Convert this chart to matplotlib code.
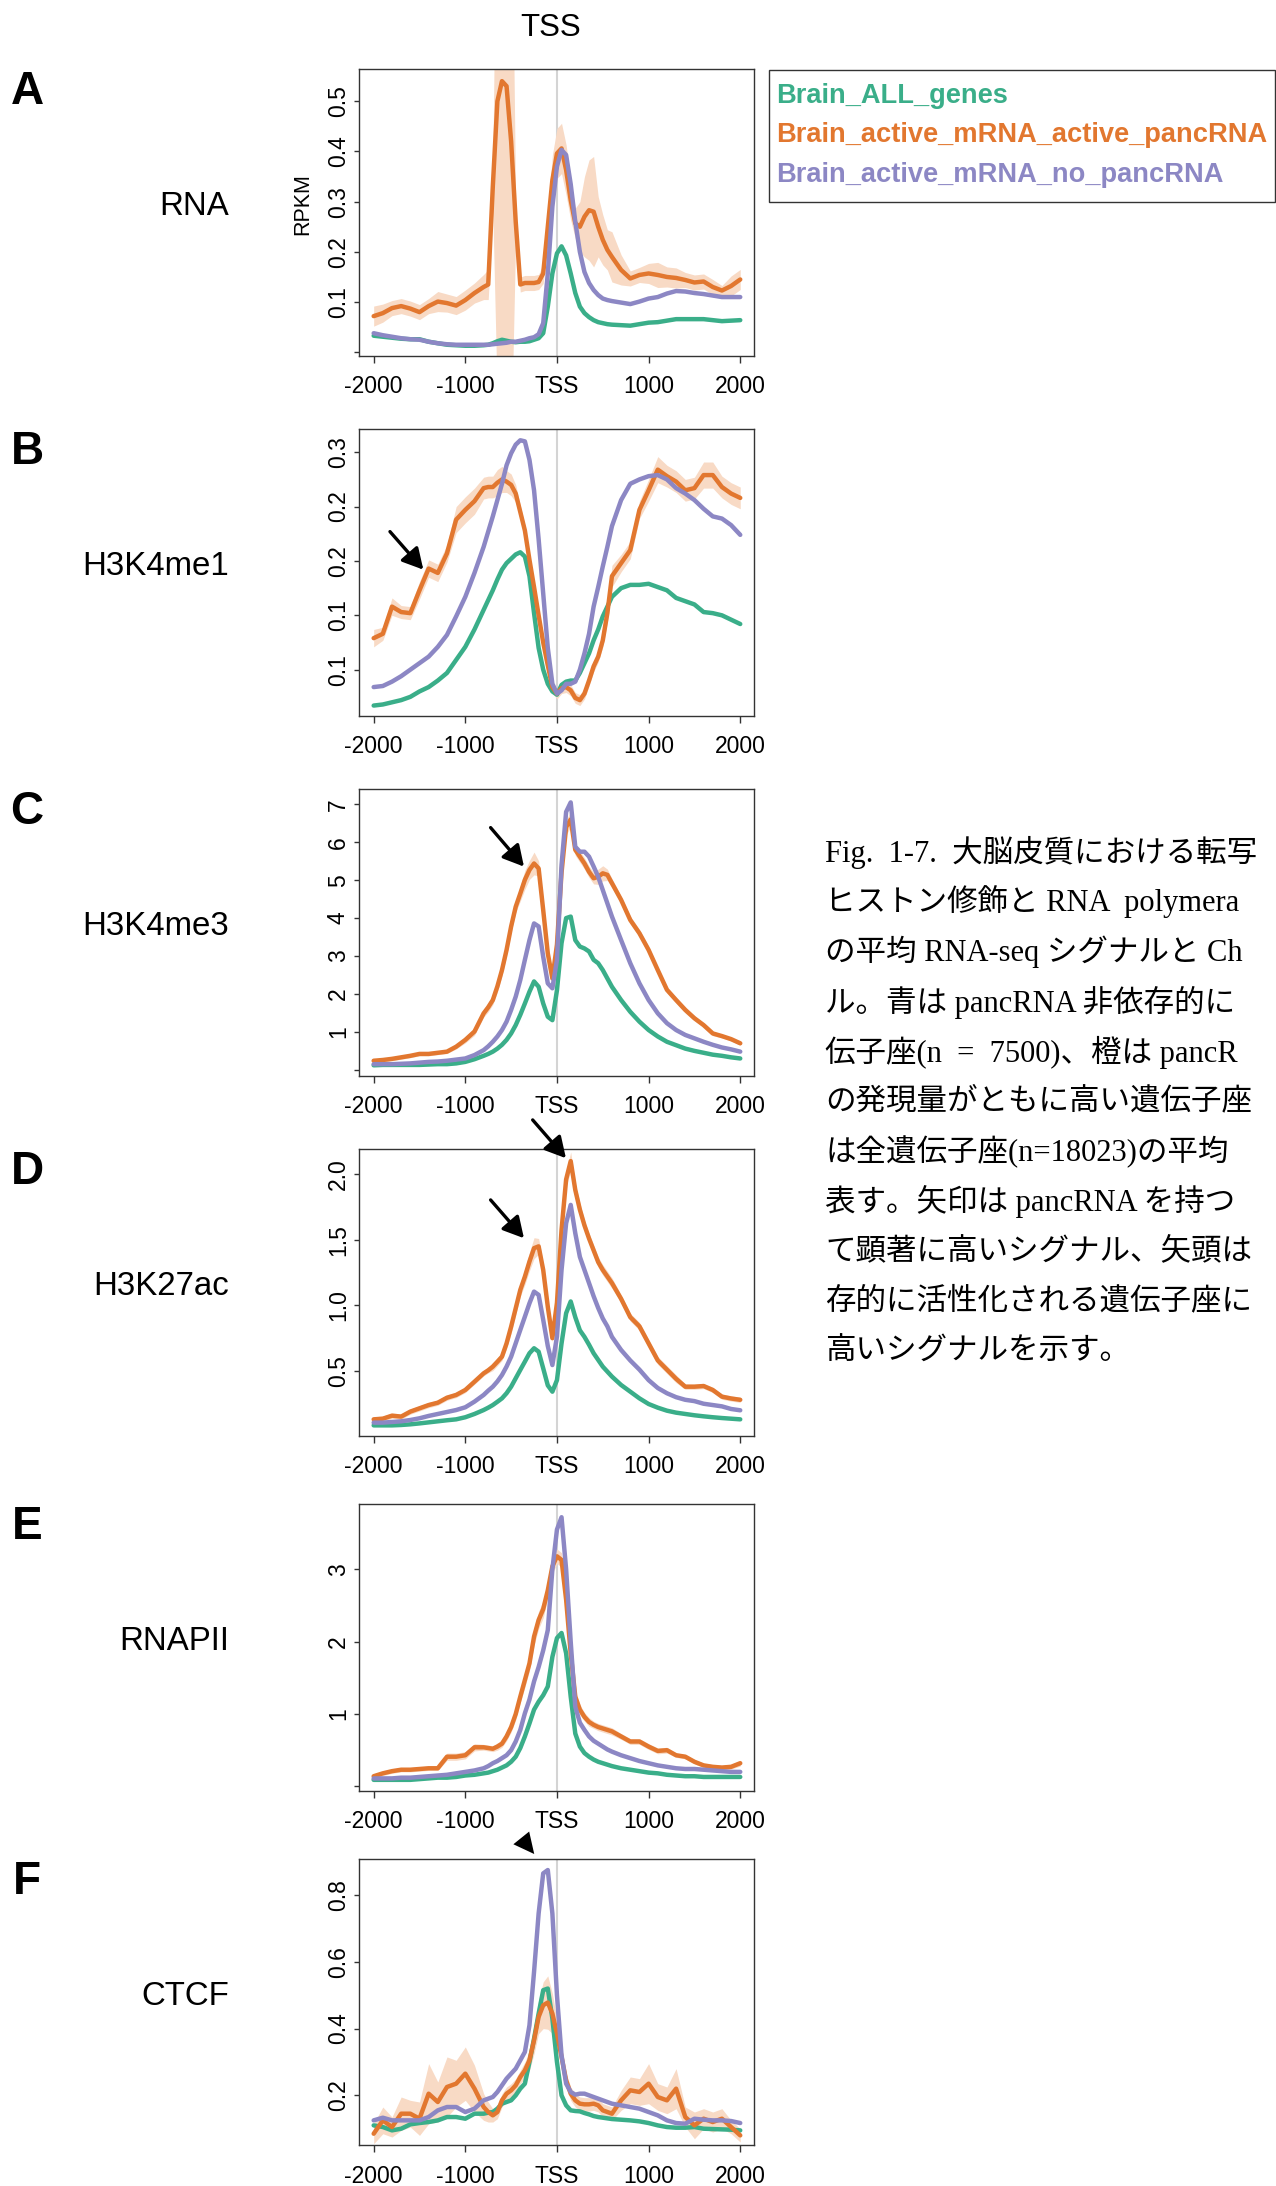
import matplotlib
matplotlib.use("Agg")
import matplotlib.pyplot as plt
from matplotlib.patches import Rectangle

plt.rcParams['font.family'] = ['Liberation Sans', 'DejaVu Sans']

# distance from TSS (bp), shared by all panels
x_pos = [-2000, -1900, -1800, -1700, -1600, -1500, -1400, -1300, -1200, -1100, -1000, -900, -800,
         -750, -700, -650, -600, -550, -500, -450, -400, -350, -300, -250, -200, -150, -100, -50,
         0, 50, 100, 150, 200, 250, 300, 350, 400, 450, 500, 550, 600,
         700, 800, 900, 1000, 1100, 1200, 1300, 1400, 1500, 1600, 1700, 1800, 1900, 2000]

# A: RNA
rna_all = [.033, .031, .029, .027, .026, .026, .021, .018, .015, .014, .013, .013, .014,
           .015, .018, .022, .025, .023, .021, .020, .021, .021, .022, .025, .028, .038, .091, .157,
           .197, .211, .193, .157, .118, .091, .078, .070, .064, .060, .058, .056, .055,
           .054, .053, .056, .059, .060, .063, .066, .066, .066, .066, .064, .062, .063, .064]
rna_active = [.072, .078, .088, .092, .087, .080, .092, .101, .098, .093, .104, .118, .130,
              .135, .33, .50, .54, .53, .42, .26, .135, .138, .138, .138, .140, .157, .25, .343,
              .396, .406, .363, .303, .257, .25, .270, .283, .28, .25, .224, .204, .19,
              .164, .147, .154, .157, .154, .150, .148, .144, .139, .141, .130, .123, .132, .145]
rna_nopanc = [.038, .034, .031, .028, .026, .025, .021, .018, .016, .015, .015, .015, .015,
              .015, .016, .017, .018, .019, .021, .021, .023, .025, .028, .030, .036, .058, .157, .29,
              .37, .403, .393, .335, .26, .20, .16, .138, .124, .114, .107, .104, .102,
              .099, .096, .101, .107, .110, .117, .122, .121, .118, .116, .113, .110, .110, .110]
rna_band = [.02, .018, .015, .015, .015, .015, .015, .02, .018, .018, .02, .02, .025,
            .03, .05, .6, .6, .6, .6, .03, .015, .015, .015, .015, .015, .02, .03, .05,
            .05, .05, .05, .04, .03, .05, .08, .10, .11, .06, .05, .04, .05,
            .03, .015, .015, .02, .025, .02, .02, .015, .015, .015, .015, .01, .02, .02]

# B: H3K4me1
k4me1_all = [.067, .068, .070, .072, .075, .080, .084, .090, .097, .109, .121, .137, .155,
             .164, .173, .183, .192, .198, .202, .206, .208, .204, .186, .152, .120, .100, .087, .080,
             .077, .086, .089, .090, .090, .097, .106, .115, .127, .137, .149, .158, .167,
             .175, .178, .178, .179, .176, .173, .166, .163, .160, .153, .152, .150, .146, .142]
k4me1_active = [.129, .133, .158, .153, .152, .173, .193, .189, .207, .238, .247, .255, .267,
                .268, .268, .272, .275, .273, .270, .262, .245, .228, .201, .176, .150, .125, .104, .084,
                .078, .083, .084, .081, .074, .072, .078, .090, .103, .112, .127, .152, .186,
                .198, .210, .247, .265, .284, .278, .273, .265, .267, .279, .279, .268, .262, .258]
k4me1_nopanc = [.084, .085, .089, .094, .100, .106, .112, .121, .132, .149, .167, .189, .213,
                .227, .241, .256, .271, .288, .299, .307, .311, .310, .293, .265, .220, .170, .120, .087,
                .078, .081, .087, .087, .089, .100, .115, .133, .158, .176, .195, .213, .232,
                .256, .271, .275, .278, .279, .275, .267, .262, .256, .248, .241, .239, .233, .224]
k4me1_band = [.008, .006, .008, .006, .006, .008, .008, .008, .008, .012, .012, .012, .010,
              .010, .010, .012, .012, .010, .010, .008, .006, .005, .005, .005, .005, .005, .005, .005,
              .005, .005, .005, .005, .005, .005, .005, .005, .005, .005, .006, .008, .010,
              .008, .008, .008, .010, .012, .010, .010, .010, .010, .012, .012, .010, .010, .010]

# C: H3K4me3
k4me3_all = [.12, .13, .13, .13, .13, .13, .14, .15, .15, .17, .21, .28, .37,
             .42, .48, .56, .66, .79, .96, 1.18, 1.45, 1.75, 2.06, 2.33, 2.19, 1.75, 1.40, 1.31,
             2.10, 3.34, 4.0, 4.04, 3.42, 3.25, 3.20, 3.12, 2.90, 2.81, 2.63, 2.41, 2.19,
             1.84, 1.53, 1.27, 1.05, .88, .74, .65, .56, .50, .45, .40, .37, .33, .30]
k4me3_active = [.24, .26, .29, .33, .37, .42, .42, .45, .48, .61, .79, 1.01, 1.49,
                1.65, 1.84, 2.2, 2.63, 3.16, 3.78, 4.30, 4.65, 5.01, 5.27, 5.44, 5.31, 4.21, 3.07, 2.41,
                3.3, 5.2, 6.4, 6.6, 5.80, 5.62, 5.44, 5.22, 5.05, 5.09, 5.18, 5.14, 4.92,
                4.48, 3.95, 3.60, 3.16, 2.63, 2.11, 1.84, 1.58, 1.36, 1.18, .96, .89, .81, .70]
k4me3_nopanc = [.15, .15, .15, .16, .17, .19, .21, .22, .24, .27, .30, .39, .52,
                .62, .74, .88, 1.05, 1.27, 1.58, 1.93, 2.37, 2.90, 3.42, 3.86, 3.78, 2.98, 2.28, 2.15,
                2.9, 5.4, 6.8, 7.05, 5.88, 5.75, 5.75, 5.62, 5.36, 5.09, 4.74, 4.39, 4.04,
                3.42, 2.81, 2.28, 1.84, 1.49, 1.23, 1.05, .92, .83, .74, .66, .59, .54, .48]
k4me3_band = [.05, .05, .05, .05, .05, .05, .05, .05, .05, .06, .08, .10, .10,
              .12, .12, .15, .15, .15, .15, .15, .20, .25, .25, .30, .20, .15, .10, .10,
              .10, .15, .20, .20, .15, .15, .15, .15, .15, .20, .20, .15, .12,
              .10, .10, .10, .10, .08, .08, .08, .08, .07, .06, .06, .05, .05, .05]

# D: H3K27ac
k27ac_all = [.085, .085, .085, .088, .093, .100, .108, .116, .124, .131, .147, .172, .202,
             .22, .24, .265, .291, .33, .38, .444, .508, .571, .635, .673, .647, .52, .39, .342,
             .43, .71, .94, 1.03, .91, .81, .76, .70, .635, .584, .533, .495, .457,
             .393, .342, .291, .248, .22, .197, .182, .172, .162, .154, .147, .141, .136, .131]
k27ac_active = [.131, .136, .159, .152, .19, .215, .24, .258, .296, .317, .355, .418, .482,
                .505, .533, .57, .609, .71, .838, .978, 1.118, 1.219, 1.334, 1.436, 1.45, 1.27, .99, .75,
                1.02, 1.575, 1.96, 2.10, 1.88, 1.73, 1.61, 1.51, 1.42, 1.33, 1.27, 1.22, 1.17,
                1.05, .91, .84, .71, .58, .51, .44, .38, .38, .385, .355, .304, .29, .28]
k27ac_nopanc = [.106, .106, .111, .116, .126, .139, .157, .172, .187, .202, .223, .266, .317,
                .35, .38, .42, .469, .533, .609, .711, .813, .914, 1.016, 1.105, 1.08, .89, .69, .545,
                .762, 1.27, 1.626, 1.766, 1.55, 1.37, 1.27, 1.17, 1.07, .98, .90, .84, .76,
                .66, .58, .51, .43, .37, .33, .30, .28, .27, .25, .24, .23, .21, .20]
k27ac_band = [.02, .02, .02, .02, .02, .02, .02, .02, .02, .02, .02, .02, .02,
              .02, .03, .03, .03, .04, .05, .05, .05, .06, .07, .08, .06, .05, .04, .03,
              .04, .05, .06, .07, .05, .05, .04, .04, .04, .04, .04, .04, .04,
              .03, .03, .03, .03, .03, .03, .03, .02, .02, .02, .02, .02, .02, .02]

# E: RNAPII
pol2_all = [.09, .09, .09, .09, .09, .10, .11, .12, .12, .13, .15, .16, .18,
            .19, .21, .23, .26, .29, .34, .41, .53, .69, .87, 1.06, 1.17, 1.26, 1.38, 1.79,
            2.05, 2.12, 1.84, 1.24, .73, .55, .46, .41, .37, .34, .32, .30, .28,
            .25, .23, .21, .19, .18, .16, .15, .14, .14, .13, .13, .13, .13, .13]
pol2_active = [.14, .18, .21, .23, .23, .24, .25, .25, .41, .41, .43, .54, .54,
               .53, .52, .55, .59, .69, .82, 1.0, 1.24, 1.47, 1.70, 2.07, 2.30, 2.45, 2.71, 3.04,
               3.18, 3.13, 2.58, 1.84, 1.24, 1.06, .96, .89, .85, .82, .80, .78, .76,
               .69, .62, .62, .55, .49, .50, .43, .41, .34, .29, .27, .26, .27, .32]
pol2_nopanc = [.11, .11, .11, .12, .12, .13, .14, .15, .16, .18, .20, .22, .25,
               .28, .32, .35, .39, .43, .50, .62, .78, 1.01, 1.20, 1.45, 1.65, 1.88, 2.16, 3.0,
               3.55, 3.72, 3.0, 2.0, 1.1, .88, .78, .69, .63, .59, .55, .51, .48,
               .43, .39, .35, .32, .29, .27, .25, .24, .24, .23, .22, .21, .20, .20]
pol2_band = [.03, .03, .03, .03, .03, .03, .03, .03, .05, .05, .05, .05, .04,
             .04, .04, .05, .05, .06, .07, .08, .08, .10, .10, .12, .12, .12, .10, .10,
             .10, .10, .10, .10, .08, .07, .06, .06, .05, .05, .05, .05, .05,
             .04, .04, .04, .04, .04, .04, .03, .03, .03, .03, .03, .03, .03, .04]

# F: CTCF
ctcf_all = [.11, .105, .095, .10, .113, .117, .12, .125, .135, .135, .13, .145, .145,
            .148, .15, .16, .175, .18, .185, .20, .22, .235, .30, .37, .445, .515, .52, .43,
            .30, .20, .17, .155, .153, .152, .147, .143, .138, .135, .133, .131, .129,
            .127, .125, .122, .117, .11, .105, .103, .103, .105, .10, .099, .098, .097, .095]
ctcf_active = [.085, .125, .105, .145, .145, .13, .205, .18, .225, .235, .265, .22, .165,
               .15, .14, .15, .185, .205, .215, .23, .255, .275, .305, .365, .435, .47, .478, .445,
               .385, .315, .245, .205, .185, .175, .173, .173, .175, .17, .155, .15, .145,
               .185, .215, .21, .235, .195, .185, .22, .135, .11, .13, .12, .13, .105, .08]
ctcf_nopanc = [.125, .133, .125, .125, .125, .125, .135, .155, .165, .165, .15, .16, .185,
               .19, .195, .21, .23, .25, .265, .28, .305, .33, .41, .57, .745, .865, .875, .745,
               .50, .32, .235, .21, .202, .205, .205, .20, .195, .19, .185, .18, .175,
               .17, .165, .16, .15, .14, .125, .117, .115, .13, .127, .125, .125, .123, .117]
ctcf_band = [.03, .04, .03, .05, .04, .05, .09, .06, .09, .07, .08, .07, .04,
             .03, .02, .02, .02, .02, .02, .02, .02, .025, .03, .04, .05, .07, .08, .06,
             .04, .03, .02, .02, .02, .02, .02, .02, .02, .02, .02, .02, .02,
             .03, .04, .04, .06, .04, .04, .06, .03, .04, .03, .03, .03, .02, .02]

x_ticks = [-2000, -1000, 0, 1000, 2000]
x_ticklabels = ['-2000', '-1000', 'TSS', '1000', '2000']

legend_labels = ['Brain_ALL_genes', 'Brain_active_mRNA_active_pancRNA', 'Brain_active_mRNA_no_pancRNA']

# caption, as far as it shows before the right edge of the page
caption_lines = [
    "Fig.  1-7.  大脳皮質における転写",
    "ヒストン修飾と RNA  polymera",
    "の平均 RNA-seq シグナルと Ch",
    "ル。青は pancRNA 非依存的に",
    "伝子座(n  =  7500)、橙は pancR",
    "の発現量がともに高い遺伝子座",
    "は全遺伝子座(n=18023)の平均",
    "表す。矢印は pancRNA を持つ",
    "て顕著に高いシグナル、矢頭は",
    "存的に活性化される遺伝子座に",
    "高いシグナルを示す。",
]

GREEN = '#3aae89'
ORANGE = '#e2772f'
PURPLE = '#8c87c4'
BAND = '#f8dac5'
FRAME = '#333333'
colors = [GREEN, ORANGE, PURPLE]

panels = [
    ("A", "RNA", rna_all, rna_active, rna_nopanc, rna_band, (-0.0074, 0.5636),
     [0, .1, .2, .3, .4, .5], ['', '0.1', '0.2', '0.3', '0.4', '0.5']),
    ("B", "H3K4me1", k4me1_all, k4me1_active, k4me1_nopanc, k4me1_band, (0.0574, 0.3211),
     [.10, .15, .20, .25, .30], ['0.1', '0.1', '0.2', '0.2', '0.3']),
    ("C", "H3K4me3", k4me3_all, k4me3_active, k4me3_nopanc, k4me3_band, (-0.162, 7.395),
     [0, 1, 2, 3, 4, 5, 6, 7], ['', '1', '2', '3', '4', '5', '6', '7']),
    ("D", "H3K27ac", k27ac_all, k27ac_active, k27ac_nopanc, k27ac_band, (0.004, 2.19),
     [.5, 1.0, 1.5, 2.0], ['0.5', '1.0', '1.5', '2.0']),
    ("E", "RNAPII", pol2_all, pol2_active, pol2_nopanc, pol2_band, (-0.06, 3.903),
     [0, 1, 2, 3], ['', '1', '2', '3']),
    ("F", "CTCF", ctcf_all, ctcf_active, ctcf_nopanc, ctcf_band, (0.05, 0.909),
     [.2, .4, .6, .8], ['0.2', '0.4', '0.6', '0.8']),
]

W, H = 1276, 2186
fig = plt.figure(figsize=(W / 100, H / 100), dpi=100)


def fx(px):
    return px / W


def fy(py):
    return 1 - py / H


ax_left, ax_right = 359, 754
ax_h = 286.7
tops = [69.3, 429.3, 789.3, 1149.3, 1504, 1858.7]
axes = []

for (letter, name, s_all, s_act, s_no, band, ylim, yt, ytl), top in zip(panels, tops):
    ax = fig.add_axes([fx(ax_left), fy(top + ax_h), (ax_right - ax_left) / W, ax_h / H])
    ax.axvline(0, color='#d4d4d4', lw=1.5, zorder=1)
    lo = [v - b for v, b in zip(s_act, band)]
    hi = [v + b for v, b in zip(s_act, band)]
    ax.fill_between(x_pos, lo, hi, color=BAND, lw=0, zorder=2)
    for s, c in zip([s_all, s_act, s_no], colors):
        ax.plot(x_pos, s, color=c, lw=3.2, zorder=3, solid_joinstyle='round', solid_capstyle='round')
    ax.set_xlim(-2160, 2150)
    ax.set_ylim(*ylim)
    ax.set_xticks(x_ticks)
    ax.set_xticklabels(x_ticklabels)
    ax.set_yticks(yt)
    ax.set_yticklabels(ytl, rotation=90, va='center')
    ax.tick_params(axis='x', length=5, width=1, pad=9, labelsize=16.5, color=FRAME)
    ax.tick_params(axis='y', length=3.6, width=1, pad=3, labelsize=16.5, color=FRAME)
    for sp in ax.spines.values():
        sp.set_color(FRAME)
        sp.set_linewidth(1)
    fig.text(fx(27), fy(top + 23), letter, fontsize=33, fontweight='bold', ha='center', va='center')
    fig.text(fx(229), fy(top + ax_h / 2 - 6), name, fontsize=23.8, ha='right', va='center')
    axes.append(ax)

# arrows marking strong signals
arrow_kw = dict(arrowstyle='-|>,head_length=12.5,head_width=6.8', mutation_scale=1,
                lw=2.4, color='black', shrinkA=0, shrinkB=0)
axes[1].annotate('', xy=(-1458, 0.192), xytext=(-1822, 0.227), arrowprops=arrow_kw, annotation_clip=False)
axes[2].annotate('', xy=(-360, 5.357), xytext=(-724, 6.385), arrowprops=arrow_kw, annotation_clip=False)
axes[3].annotate('', xy=(-360, 1.512), xytext=(-724, 1.804), arrowprops=arrow_kw, annotation_clip=False)
axes[3].annotate('', xy=(98, 2.122), xytext=(-265, 2.414), arrowprops=arrow_kw, annotation_clip=False)
head_kw = dict(arrowstyle='-|>,head_length=14.9,head_width=7.3', mutation_scale=1,
               lw=0, color='black', shrinkA=0, shrinkB=0)
axes[5].annotate('', xy=(-248, 0.923), xytext=(-453, 0.993), arrowprops=head_kw, annotation_clip=False)

fig.text(fx(551), fy(28), 'TSS', fontsize=22.5, ha='center', va='center')
fig.text(fx(303), fy(204), 'RPKM', fontsize=15.5, rotation=90, ha='center', va='center')

# legend box
fig.add_artist(Rectangle((fx(769), fy(202)), (1275 - 769) / W, (202 - 70) / H,
                         transform=fig.transFigure, fill=False, edgecolor=FRAME, lw=1))
for lab, c, base in zip(legend_labels, colors, [102.7, 141.7, 181.7]):
    fig.text(fx(776), fy(base), lab, color=c, fontsize=19.6, fontweight='bold', va='baseline')

# caption
for i, line in enumerate(caption_lines):
    fig.text(fx(825), fy(852 + i * 50), line, fontsize=22,
             family=['Liberation Serif', 'Noto Sans CJK JP'], va='center')

fig.savefig('out.png', dpi=100)
